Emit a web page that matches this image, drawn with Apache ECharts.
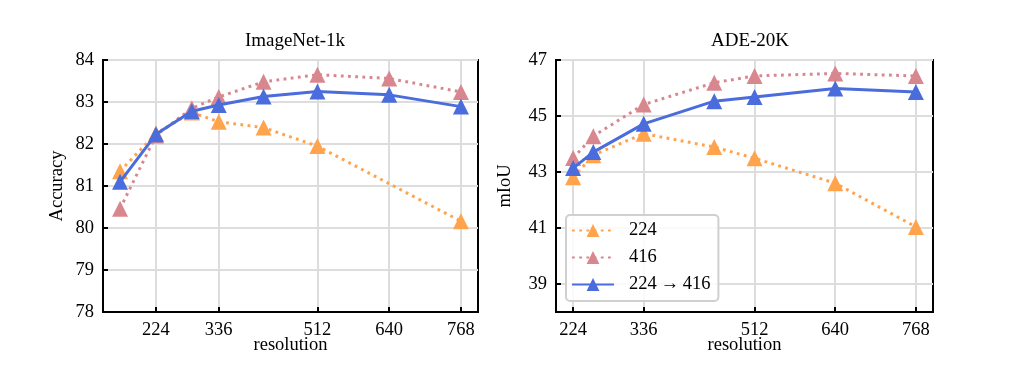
<!DOCTYPE html>
<html>
<head>
<meta charset="utf-8">
<script src="https://cdn.jsdelivr.net/npm/echarts@6/dist/echarts.min.js"></script>
<style>html,body{margin:0;padding:0;background:#fff}#c{width:1024px;height:370px}</style>
</head>
<body>
<div id="c"></div>
<script>
// ---- data ----
const seriesNames = ['224', '416', '224\u2009\u2192\u2009416'];
const inRes = [160, 224, 288, 336, 416, 512, 640, 768];
const in224 = [81.35, 82.25, 82.75, 82.53, 82.39, 81.95, null, 80.16];
const in416 = [80.46, 82.2, 82.85, 83.12, 83.48, 83.65, 83.56, 83.24];
const in224to416 = [81.1, 82.23, 82.78, 82.93, 83.13, 83.25, 83.17, 82.89];
const adeRes = [224, 256, 336, 448, 512, 640, 768];
const ade224 = [42.81, 43.6, 44.37, 43.89, 43.49, 42.6, 41.04];
const ade416 = [43.5, 44.28, 45.41, 46.19, 46.43, 46.52, 46.43];
const ade224to416 = [43.14, 43.71, 44.72, 45.53, 45.68, 45.98, 45.86];
const xTicks = [224, 336, 512, 640, 768];
const inYTicks = [78, 79, 80, 81, 82, 83, 84];
const adeYTicks = [39, 41, 43, 45, 47];
const titles = ['ImageNet-1k', 'ADE-20K'];
const yNames = ['Accuracy', 'mIoU'];
const xName = 'resolution';

// ---- styling ----
const FONT = 'Liberation Serif';
const FS = 18.5;
const colors = ['#ffa34d', '#d8878f', '#4a6cdc'];
const pairs = (xs, ys) => xs.map((x, i) => [x, ys[i]]);
const margin = (xs) => { const r = xs[xs.length - 1] - xs[0]; return [xs[0] - 0.05 * r, xs[xs.length - 1] + 0.05 * r]; };

function mkX(idx, xs) {
  const [mn, mx] = margin(xs);
  return {
    type: 'value', gridIndex: idx, min: mn, max: mx,
    name: xName, nameLocation: 'middle', nameGap: 24, nameMoveOverlap: false,
    nameTextStyle: { fontFamily: FONT, fontSize: FS, color: '#000' },
    axisLine: { show: true, lineStyle: { color: '#000', width: 2 } },
    axisTick: { show: true, inside: true, length: 5, customValues: xTicks, lineStyle: { color: '#000', width: 2 } },
    axisLabel: { customValues: xTicks, fontFamily: FONT, fontSize: FS, color: '#000', margin: 9 },
    splitLine: { show: true, lineStyle: { color: '#dddddd', width: 2 } }
  };
}
function mkY(idx, mn, mx, ticks, name, gap) {
  return {
    type: 'value', gridIndex: idx, min: mn, max: mx,
    name: name, nameLocation: 'middle', nameGap: gap, nameMoveOverlap: false,
    nameTextStyle: { fontFamily: FONT, fontSize: FS, color: '#000' },
    axisLine: { show: true, lineStyle: { color: '#000', width: 2 } },
    axisTick: { show: true, inside: true, length: 5, customValues: ticks, lineStyle: { color: '#000', width: 2 } },
    axisLabel: { customValues: ticks, fontFamily: FONT, fontSize: FS, color: '#000', margin: 9 },
    splitLine: { show: true, lineStyle: { color: '#dddddd', width: 2 } }
  };
}
function mkS(idx, k, xs, ys) {
  const dotted = k < 2;
  return {
    type: 'line', name: seriesNames[k], xAxisIndex: idx, yAxisIndex: idx,
    data: pairs(xs, ys), connectNulls: true,
    symbol: 'triangle', symbolSize: 16, showSymbol: true,
    color: colors[k],
    itemStyle: { color: colors[k] },
    lineStyle: { color: colors[k], width: 3, type: dotted ? [2.8, 4.4] : 'solid', cap: 'butt' },
    z: 2 + k, animation: false
  };
}

const chart = echarts.init(document.getElementById('c'), null, { renderer: 'canvas' });
chart.setOption({
  animation: false,
  backgroundColor: '#fff',
  title: [
    { text: titles[0], left: 290, top: 27, textAlign: 'center', textStyle: { fontFamily: FONT, fontSize: 19, fontWeight: 'normal', color: '#000' } },
    { text: titles[1], left: 745, top: 27, textAlign: 'center', textStyle: { fontFamily: FONT, fontSize: 19, fontWeight: 'normal', color: '#000' } }
  ],
  grid: [
    { left: 103, top: 60, width: 375, height: 252, show: true, borderColor: '#000', borderWidth: 2, backgroundColor: 'transparent' },
    { left: 556, top: 60, width: 377, height: 252, show: true, borderColor: '#000', borderWidth: 2, backgroundColor: 'transparent' }
  ],
  xAxis: [mkX(0, inRes), mkX(1, adeRes)],
  yAxis: [mkY(0, 78, 84, inYTicks, yNames[0], 36), mkY(1, 38, 47, adeYTicks, yNames[1], 41)],
  legend: {
    data: seriesNames, orient: 'vertical', left: 566, top: 215,
    itemWidth: 42, itemHeight: 16, itemGap: 8,
    padding: [6, 8, 7, 5],
    backgroundColor: 'rgba(255,255,255,0.85)', borderColor: '#d0d0d0', borderWidth: 2, borderRadius: 4,
    textStyle: { fontFamily: FONT, fontSize: FS, color: '#000', padding: [0, 0, 0, 10] }
  },
  series: [
    mkS(0, 0, inRes, in224), mkS(0, 1, inRes, in416), mkS(0, 2, inRes, in224to416),
    mkS(1, 0, adeRes, ade224), mkS(1, 1, adeRes, ade416), mkS(1, 2, adeRes, ade224to416)
  ]
});
</script>
</body>
</html>
